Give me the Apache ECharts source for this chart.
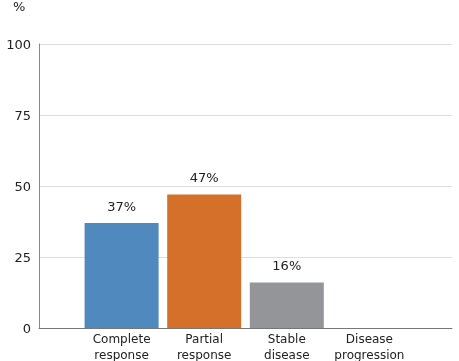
<!DOCTYPE html>
<html><head><meta charset="utf-8">
<script src="https://cdn.jsdelivr.net/npm/echarts@6/dist/echarts.min.js"></script>
<style>html,body{margin:0;padding:0;background:#fff}#c{width:459px;height:361px}</style>
</head><body><div id="c"></div>
<script>
const categories = ['', 'Complete\nresponse', 'Partial\nresponse', 'Stable\ndisease', 'Disease\nprogression', ''];
const values = [null, 37, 47, 16, 0, null];
const barColors = [null, '#4f89be', '#d4702a', '#949598', '#949598', null];
const yTicks = [0, 25, 50, 75, 100];

const chart = echarts.init(document.getElementById('c'), null, {renderer: 'canvas'});
const font = 'DejaVu Sans';
chart.setOption({
  animation: false,
  grid: {left: 39, right: 7, top: 44, bottom: 33, containLabel: false, outerBoundsMode: 'none'},
  graphic: [{type: 'text', left: 13, top: 1, style: {text: '%', font: '13px "DejaVu Sans"', fill: '#222'}}],
  xAxis: {
    type: 'category', data: categories, boundaryGap: false,
    axisLine: {lineStyle: {color: '#777', width: 1}},
    axisTick: {show: false},
    axisLabel: {color: '#222', fontFamily: font, fontSize: 12, lineHeight: 16, margin: 4, interval: 0}
  },
  yAxis: {
    type: 'value', min: 0, max: 100, interval: 25,
    axisLine: {show: true, lineStyle: {color: '#888'}},
    axisTick: {show: false},
    splitLine: {lineStyle: {color: '#ddd'}},
    axisLabel: {color: '#222', fontFamily: font, fontSize: 13, margin: 8, verticalAlign: 'top', padding: [-5, 0, 0, 0],
      formatter: v => yTicks.includes(v) ? String(v) : ''}
  },
  series: [{
    type: 'bar', barWidth: 74,
    data: values.map((v, i) => ({value: v, itemStyle: {color: barColors[i]}})),
    label: {show: true, position: 'top', distance: 9, color: '#222', fontFamily: font, fontSize: 13,
      formatter: p => (p.value ? p.value + '%' : '')}
  }]
});
</script></body></html>
